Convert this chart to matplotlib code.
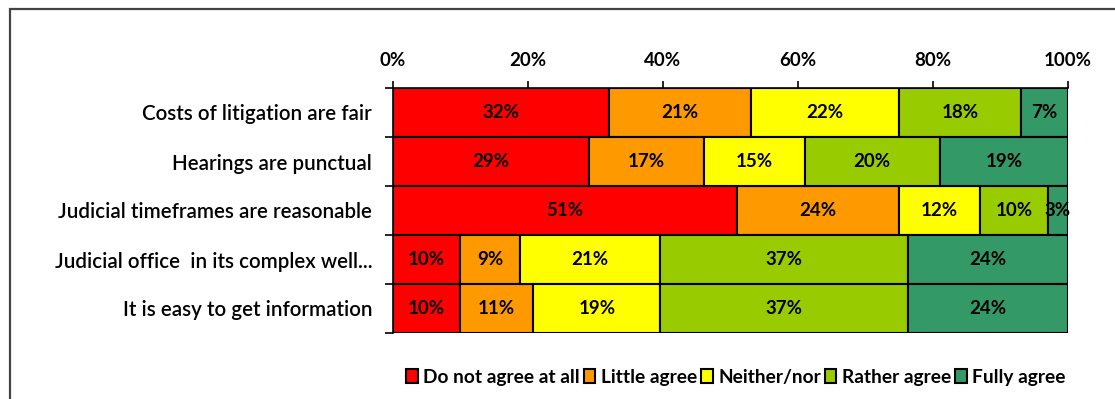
import numpy as np
import matplotlib.pyplot as plt
from matplotlib.patches import Rectangle, Patch

plt.rcParams['font.family'] = ['Lato', 'DejaVu Sans']

questions = ['Costs of litigation are fair',
             'Hearings are punctual',
             'Judicial timeframes are reasonable',
             'Judicial office  in its complex well...',
             'It is easy to get information']
answers = ['Do not agree at all', 'Little agree', 'Neither/nor',
           'Rather agree', 'Fully agree']
colors = ['#FF0000', '#FF9900', '#FFFF00', '#99CC00', '#339966']

# percent per answer, one list per answer, ordered like questions
not_at_all = [32, 29, 51, 10, 10]
little = [21, 17, 24, 9, 11]
neither = [22, 15, 12, 21, 19]
rather = [18, 20, 10, 37, 37]
fully = [7, 19, 3, 24, 24]

vals = np.array([not_at_all, little, neither, rather, fully], dtype=float)
shares = vals / vals.sum(axis=0)  # 100% stacked

fig = plt.figure(figsize=(11.15, 3.99), dpi=100)
# chart frame: only left and top edges fall inside the image
fig.patches.append(Rectangle((9.5 / 1115, -0.5), 5, 1.5 - 8.5 / 399,
                             transform=fig.transFigure, fill=False,
                             edgecolor='#444444', linewidth=1.6))
ax = fig.add_axes([393 / 1115, 1 - 333 / 399, 675 / 1115, 245 / 399])

y = np.arange(len(questions))
left = np.zeros(len(questions))
for i in range(len(answers)):
    ax.barh(y, shares[i], left=left, height=1.0, color=colors[i],
            edgecolor='black', linewidth=1.5, label=answers[i])
    for j in range(len(questions)):
        ax.text(left[j] + shares[i][j] / 2, y[j], f'{int(vals[i][j])}%',
                ha='center', va='center', fontsize=13.5, fontweight='bold')
    left += shares[i]

ax.set_xlim(0, 1)
ax.set_ylim(len(questions) - 0.5, -0.5)
ax.xaxis.tick_top()
ax.set_xticks(np.linspace(0, 1, 6))
ax.set_xticklabels([f'{p}%' for p in range(0, 101, 20)], fontsize=13.5,
                   fontweight='bold')
ax.tick_params(axis='x', direction='out', length=5, width=1.2, pad=9)
ax.set_yticks(y)
ax.set_yticklabels(questions, fontsize=14.8, fontweight='semibold')
ax.set_yticks(np.arange(-0.5, len(questions)), minor=True)
ax.tick_params(axis='y', which='major', length=0, pad=15)
ax.tick_params(axis='y', which='minor', direction='out', length=6, width=1.2)
for s in ['right', 'bottom']:
    ax.spines[s].set_visible(False)
for s in ['left', 'top']:
    ax.spines[s].set_linewidth(1.2)

handles = [Patch(facecolor=c, edgecolor='black', linewidth=1.5) for c in colors]
fig.legend(handles, answers, loc='center', bbox_to_anchor=(736 / 1115, 1 - 377 / 399),
           ncol=5, frameon=False, handlelength=0.6, handleheight=0.8,
           handletextpad=0.3, columnspacing=0.2,
           prop={'size': 13.8, 'weight': 'bold'})

fig.savefig('out.png', dpi=100)
